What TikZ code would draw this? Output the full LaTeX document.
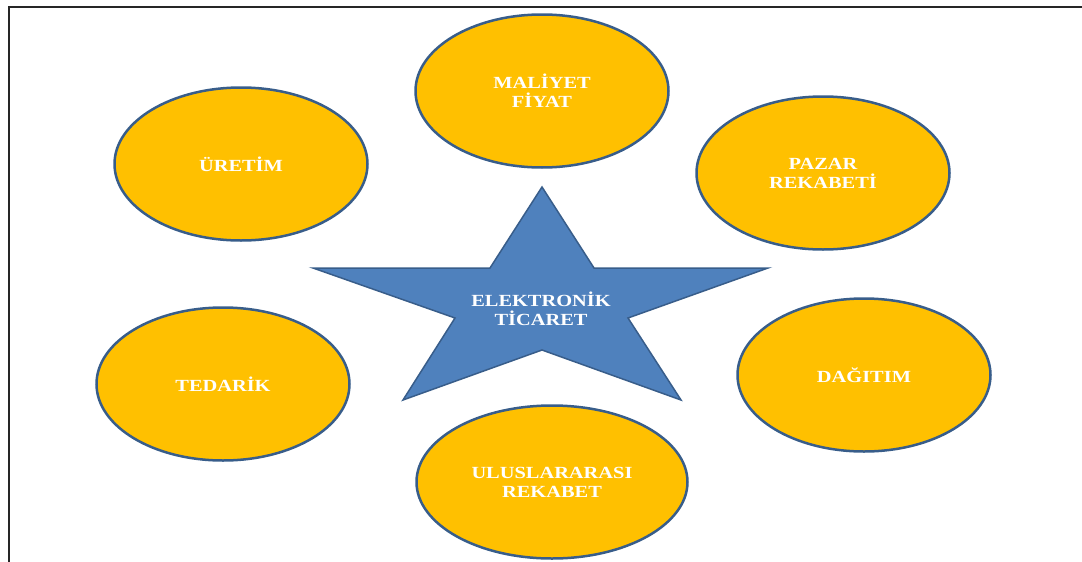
\documentclass[tikz,border=0pt]{standalone}
\usepackage{fontspec}
\setmainfont{Liberation Serif}[FakeStretch=1.2]
\usetikzlibrary{shapes.geometric}
\definecolor{sari}{HTML}{FFC000}
\definecolor{mavi}{HTML}{4F81BD}
\definecolor{kenar}{HTML}{385D8A}
\begin{document}
\begin{tikzpicture}[x=1pt,y=-1pt,
        etiket/.style={font=\fontsize{17}{19}\selectfont\bfseries,text=white,align=center},
        alan/.style={ellipse,draw=kenar,line width=2.5pt,fill=sari,minimum width=253pt,minimum height=153pt,inner sep=0pt,etiket}]
        \useasboundingbox (0,0) rectangle (1082,562);
        \draw [line width=2pt,black!85] (9,562) -- (9,7) -- (1082,7);
        \node [alan] (uretim) at (241,164) {ÜRETİM};
        \node [alan] (maliyet) at (542,91) {MALİYET\\FİYAT};
        \node [alan] (pazar) at (823,173) {PAZAR\\REKABETİ};
        \node [alan] (tedarik) at (223,384) {TEDARİK};
        \node [alan] (dagitim) at (864,375) {DAĞITIM};
        \node [alan,minimum width=271pt] (uluslararasi) at (552,482) {ULUSLARARASI\\REKABET};
        \draw [fill=mavi,draw=kenar,line width=1.5pt,line join=miter] (542,187) -- (594,268) -- (768,268) -- (628,318) -- (681,400) -- (542,350) -- (403,400) -- (455,318) -- (313,268) -- (490,268) -- cycle;
        \node [etiket] (ticaret) at (541,309) {ELEKTRONİK\\TİCARET};
    \end{tikzpicture}
\end{document}
